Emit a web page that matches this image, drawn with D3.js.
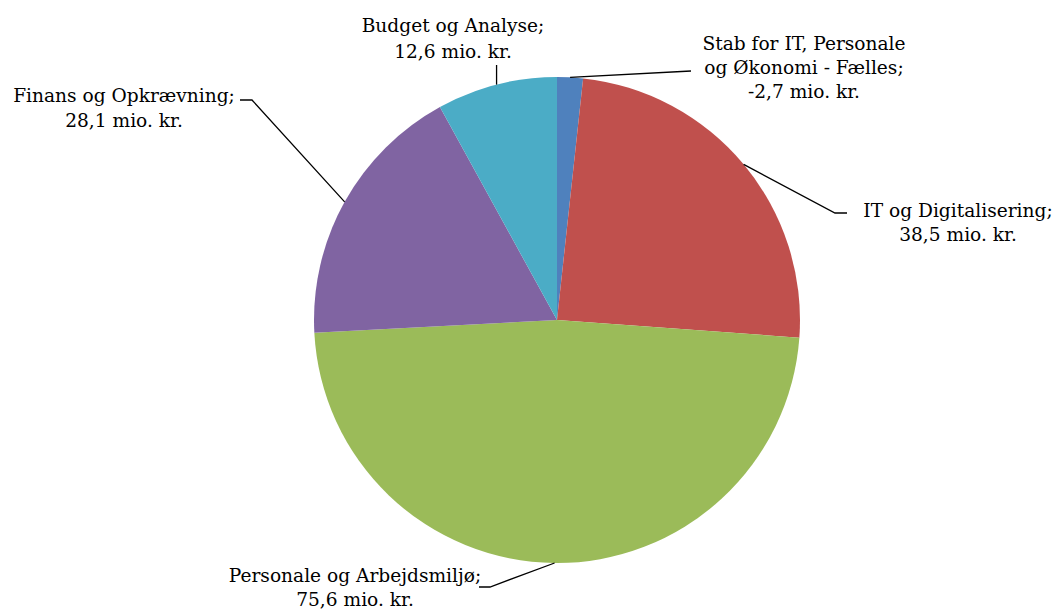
<!DOCTYPE html>
<html><head><meta charset="utf-8">
<script src="https://cdn.jsdelivr.net/npm/d3@7"></script>
<style>body{margin:0;background:#fff}svg{display:block}</style>
</head><body>
<svg id="c" width="1056" height="610"></svg>
<script>
const categories = ["Stab for IT, Personale og Økonomi - Fælles", "IT og Digitalisering", "Personale og Arbejdsmiljø", "Finans og Opkrævning", "Budget og Analyse"];
const values = [-2.7, 38.5, 75.6, 28.1, 12.6];
const colors = ["#4F81BD", "#C0504D", "#9BBB59", "#8064A2", "#4BACC6"];
const labelLines = [
  ["Stab for IT, Personale", "og Økonomi - Fælles;"],
  ["IT og Digitalisering;"],
  ["Personale og Arbejdsmiljø;"],
  ["Finans og Opkrævning;"],
  ["Budget og Analyse;"]
];
const unit = "mio. kr.";

// layout: label anchor (text center x, first baseline y), elbow point, end point of leader
const layout = [
  {tx: 804, ty: 49.5, lh: 24, elbow: [691, 71], end: [691, 71]},
  {tx: 958, ty: 216.5, lh: 24.5, elbow: [835, 213], end: [847, 213]},
  {tx: 355, ty: 582, lh: 24, elbow: [490, 587], end: [479, 587]},
  {tx: 124, ty: 101.5, lh: 25, elbow: [252, 100], end: [240, 100]},
  {tx: 453, ty: 31.5, lh: 26, elbow: [null, 65], end: [null, 65]}
];

const svg = d3.select("#c");
const cx = 557, cy = 320, R = 243;
const g = svg.append("g").attr("transform", `translate(${cx},${cy})`);
const pie = d3.pie().sort(null).value(d => Math.abs(d)).startAngle(0).endAngle(2 * Math.PI);
const arcs = pie(values);
const arc = d3.arc().innerRadius(0).outerRadius(R);

g.selectAll("path.slice").data(arcs).enter().append("path")
  .attr("class", "slice")
  .attr("d", arc)
  .attr("fill", (d, i) => colors[i]);

const fmt = v => (v < 0 ? "-" : "") + Math.abs(v).toFixed(1).replace(".", ",");

arcs.forEach((a, i) => {
  const mid = (a.startAngle + a.endAngle) / 2;
  const sx = cx + R * Math.sin(mid), sy = cy - R * Math.cos(mid);
  const L = layout[i];
  const ex = L.elbow[0] === null ? sx : L.elbow[0];
  const fx = L.end[0] === null ? sx : L.end[0];
  svg.append("path")
    .attr("d", d3.line()([[sx, sy], [ex, L.elbow[1]], [fx, L.end[1]]]))
    .attr("fill", "none").attr("stroke", "#000").attr("stroke-width", 1.3);
  const lines = labelLines[i].slice();
  lines.push(fmt(values[i]) + " " + unit);
  const t = svg.append("text")
    .attr("font-family", "'DejaVu Serif', serif")
    .attr("font-size", 18.6)
    .attr("fill", "#000")
    .attr("text-anchor", "middle");
  lines.forEach((s, k) => {
    t.append("tspan").attr("x", L.tx).attr("y", L.ty + k * L.lh).text(s);
  });
});
</script>
</body></html>
